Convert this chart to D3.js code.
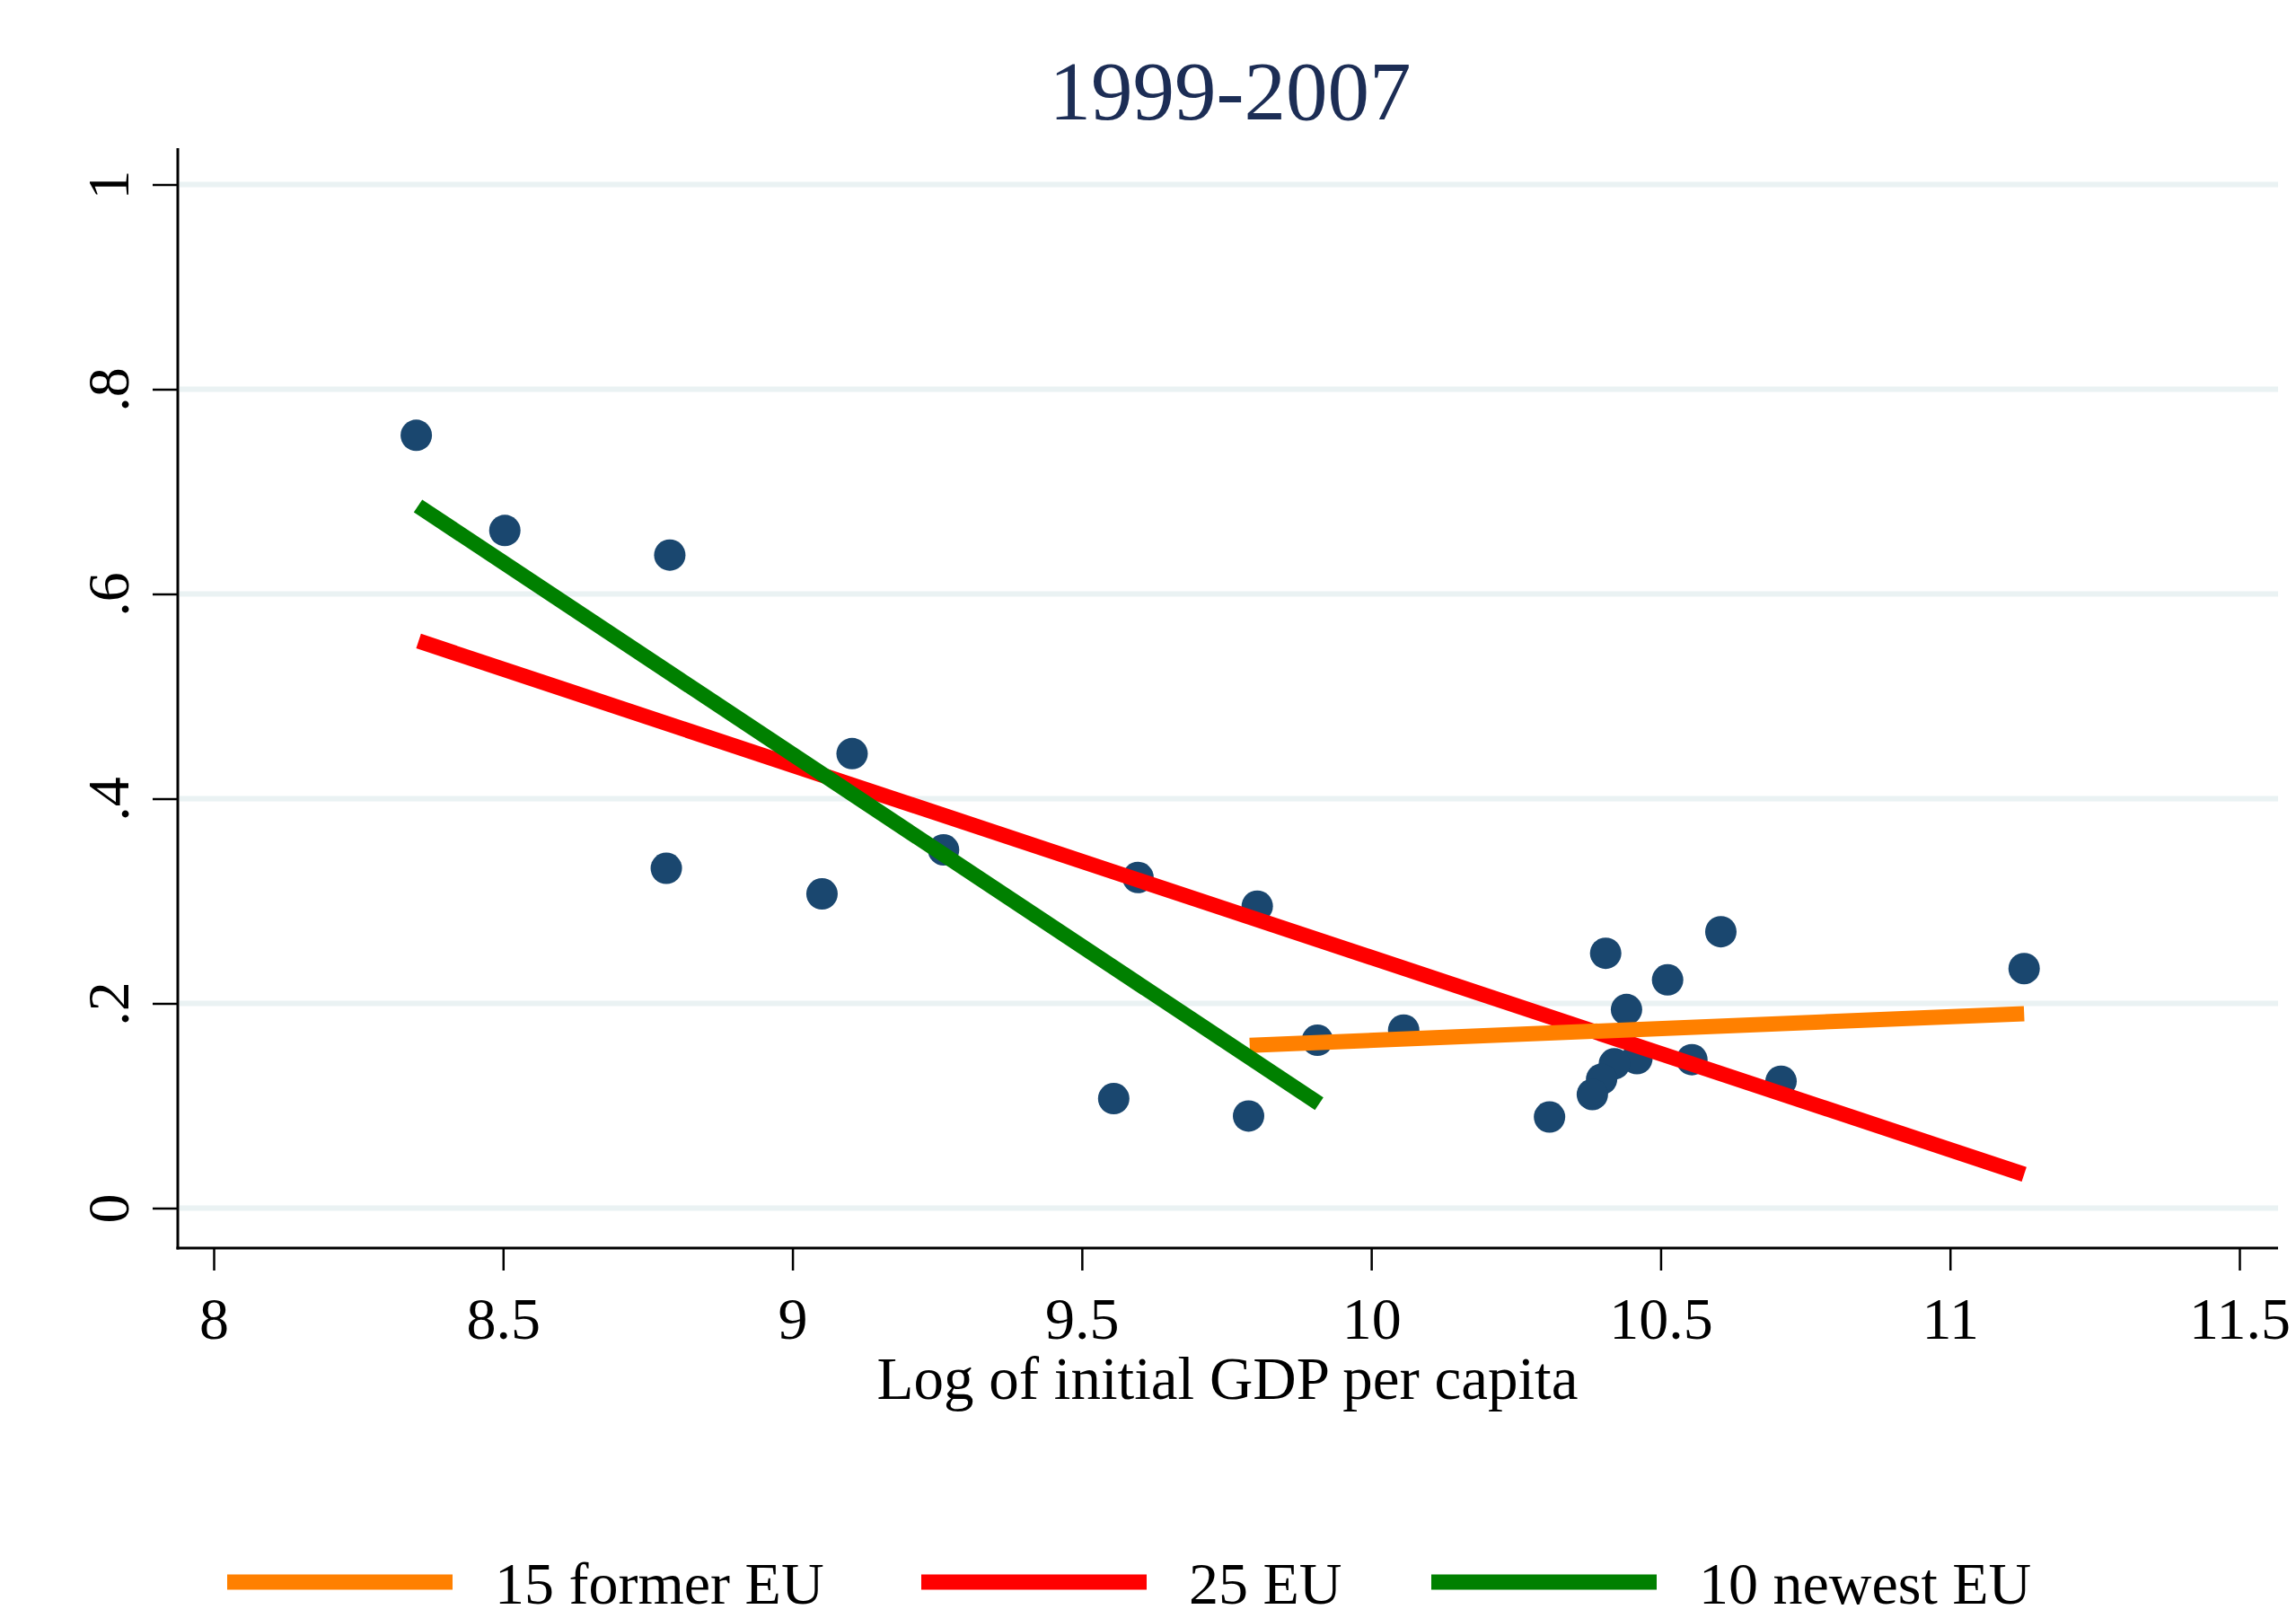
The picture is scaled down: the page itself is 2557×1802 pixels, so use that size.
<!DOCTYPE html>
<html>
<head>
<meta charset="utf-8">
<script src="https://cdn.jsdelivr.net/npm/d3@7"></script>
<style>
  html, body { margin: 0; padding: 0; background: #fff; }
  text { font-family: "Liberation Serif", "Times New Roman", serif; }
</style>
</head>
<body>
<svg id="chart" width="2557" height="1802"></svg>
<script>
// log of initial GDP per capita (x) and growth 1999-2007 (y), one per EU country
const gdpLog = [8.350, 8.503, 8.788, 8.782, 9.103, 9.051, 9.261, 9.597, 9.803, 9.555,
                9.788, 9.907, 10.056, 10.308, 10.405, 10.604, 10.512, 10.441, 10.459,
                10.420, 10.554, 10.398, 10.382, 10.708, 11.128];
const growth = [0.755, 0.662, 0.638, 0.332, 0.444, 0.307, 0.350, 0.323, 0.295, 0.107,
                0.090, 0.164, 0.174, 0.089, 0.249, 0.270, 0.223, 0.194, 0.146,
                0.141, 0.145, 0.126, 0.111, 0.124, 0.234];

// fitted lines (endpoints)
const fitLabels = ["15 former EU", "25 EU", "10 newest EU"];
const fitX0 = [9.790, 8.354, 8.353];
const fitX1 = [11.128, 11.128, 9.910];
const fitY0 = [0.159, 0.554, 0.686];
const fitY1 = [0.190, 0.033, 0.102];
const fitColors = ["#ff8000", "#ff0000", "#008000"];

const xTicks = [8, 8.5, 9, 9.5, 10, 10.5, 11, 11.5];
const xTickLabels = ["8", "8.5", "9", "9.5", "10", "10.5", "11", "11.5"];
const yTicks = [0, 0.2, 0.4, 0.6, 0.8, 1];
const yTickLabels = ["0", ".2", ".4", ".6", ".8", "1"];

const plot = { left: 198, right: 2537, top: 165, bottom: 1390 };

const svg = d3.select("#chart");

const x = d3.scaleLinear().domain([8, 11.5]).range([238, 2494]);
const y = d3.scaleLinear().domain([0, 1]).range([1345.5, 205.5]);

// title
svg.append("text")
  .attr("x", 1370).attr("y", 133)
  .attr("text-anchor", "middle")
  .attr("font-size", 93)
  .attr("fill", "#1c2d55")
  .text("1999-2007");

// gridlines
svg.append("g").selectAll("line")
  .data(yTicks)
  .enter().append("line")
  .attr("x1", plot.left + 2).attr("x2", plot.right)
  .attr("y1", d => y(d)).attr("y2", d => y(d))
  .attr("stroke", "#eaf2f3")
  .attr("stroke-width", 6);

// y axis
const yAxis = svg.append("g")
  .attr("transform", `translate(${plot.left},0)`)
  .call(d3.axisLeft(y).tickValues(yTicks)
    .tickFormat((d, i) => yTickLabels[i])
    .tickSize(28).tickSizeOuter(0));
yAxis.select(".domain").remove();
yAxis.selectAll(".tick line").attr("stroke", "#000").attr("stroke-width", 2.5);
yAxis.selectAll(".tick text")
  .attr("x", 0).attr("dy", 0)
  .attr("text-anchor", "middle")
  .attr("transform", "translate(-55,0) rotate(-90)")
  .attr("font-size", 66)
  .attr("font-family", "Liberation Serif, Times New Roman, serif")
  .attr("fill", "#000");

// x axis
const xAxis = svg.append("g")
  .attr("transform", `translate(0,${plot.bottom})`)
  .call(d3.axisBottom(x).tickValues(xTicks)
    .tickFormat((d, i) => xTickLabels[i])
    .tickSize(25).tickSizeOuter(0));
xAxis.select(".domain").remove();
xAxis.selectAll(".tick line").attr("stroke", "#000").attr("stroke-width", 2.5);
xAxis.selectAll(".tick text")
  .attr("y", 101).attr("dy", 0)
  .attr("font-size", 66)
  .attr("font-family", "Liberation Serif, Times New Roman, serif")
  .attr("fill", "#000");

// axis lines
svg.append("line")
  .attr("x1", plot.left).attr("x2", plot.left)
  .attr("y1", plot.top).attr("y2", plot.bottom + 1.5)
  .attr("stroke", "#000").attr("stroke-width", 3);
svg.append("line")
  .attr("x1", plot.left - 1.5).attr("x2", plot.right)
  .attr("y1", plot.bottom).attr("y2", plot.bottom)
  .attr("stroke", "#000").attr("stroke-width", 3);

// x axis title
svg.append("text")
  .attr("x", 1367).attr("y", 1558)
  .attr("text-anchor", "middle")
  .attr("font-size", 67)
  .attr("fill", "#000")
  .text("Log of initial GDP per capita");

// scatter points
svg.append("g").selectAll("circle")
  .data(gdpLog.map((v, i) => ({ gx: v, gy: growth[i] })))
  .enter().append("circle")
  .attr("cx", d => x(d.gx))
  .attr("cy", d => y(d.gy))
  .attr("r", 17.5)
  .attr("fill", "#1a476f");

// fitted lines: 25 EU underneath, then 15 former, then 10 newest
const drawOrder = [1, 0, 2];
svg.append("g").selectAll("line")
  .data(drawOrder)
  .enter().append("line")
  .attr("x1", i => x(fitX0[i])).attr("y1", i => y(fitY0[i]))
  .attr("x2", i => x(fitX1[i])).attr("y2", i => y(fitY1[i]))
  .attr("stroke", i => fitColors[i])
  .attr("stroke-width", 17)
  .attr("stroke-linecap", "butt");

// legend
const legendX = [253, 1026, 1594];
const legend = svg.append("g").selectAll("g")
  .data(fitLabels)
  .enter().append("g")
  .attr("transform", (d, i) => `translate(${legendX[i]},1762)`);
legend.append("line")
  .attr("x1", 0).attr("x2", 251)
  .attr("y1", 0).attr("y2", 0)
  .attr("stroke", (d, i) => fitColors[i])
  .attr("stroke-width", 17);
legend.append("text")
  .attr("x", 298).attr("y", 24)
  .attr("font-size", 66)
  .attr("fill", "#000")
  .text(d => d);
</script>
</body>
</html>
